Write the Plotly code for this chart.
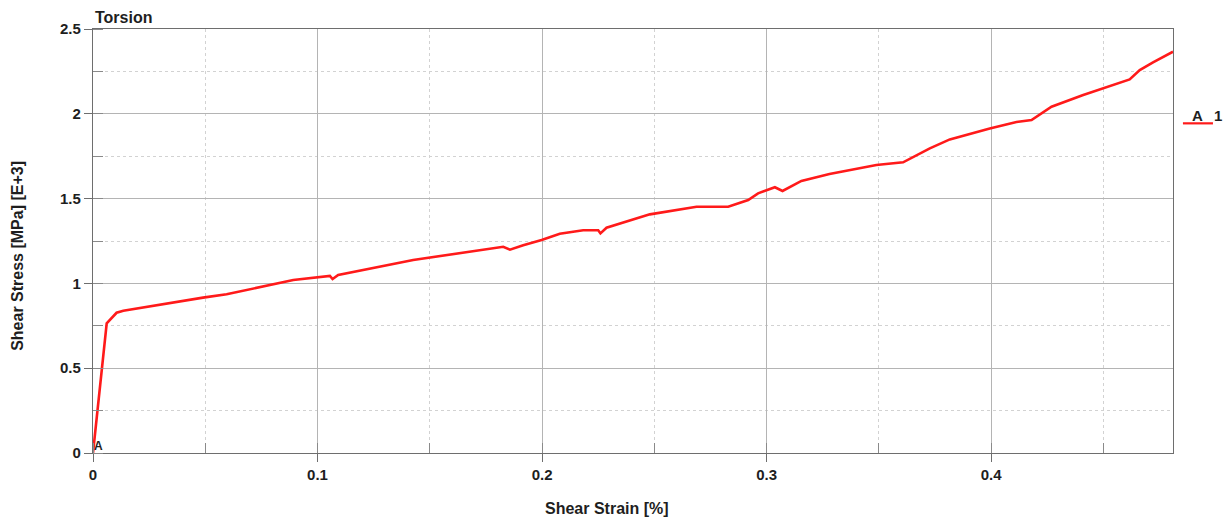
import plotly.graph_objects as go

# Torsion test: shear strain [%] vs shear stress [MPa, x1000]
shear_strain = [0.0, 0.0061, 0.0105, 0.0135, 0.049, 0.0595, 0.0892, 0.1055, 0.1067,
                0.1092, 0.1426, 0.1723, 0.1827, 0.1857, 0.1916, 0.1998, 0.2079, 0.2183,
                0.225, 0.226, 0.2287, 0.248, 0.2688, 0.2829, 0.2918, 0.2962, 0.3037,
                0.3071, 0.3155, 0.328, 0.337, 0.3489, 0.3608, 0.3727, 0.3816, 0.3994,
                0.4113, 0.418, 0.4269, 0.441, 0.4617, 0.4662, 0.4721, 0.481]
shear_stress = [0.0, 0.765, 0.827, 0.839, 0.916, 0.936, 1.02, 1.044, 1.026,
                1.05, 1.138, 1.193, 1.216, 1.199, 1.225, 1.256, 1.293, 1.313,
                1.313, 1.295, 1.328, 1.407, 1.452, 1.452, 1.492, 1.531, 1.567,
                1.545, 1.604, 1.645, 1.669, 1.698, 1.714, 1.796, 1.849, 1.914,
                1.952, 1.963, 2.042, 2.111, 2.203, 2.258, 2.303, 2.366]

x_ticks = [0, 0.1, 0.2, 0.3, 0.4]
x_tick_text = ["0", "0.1", "0.2", "0.3", "0.4"]
y_ticks = [0, 0.5, 1, 1.5, 2, 2.5]
y_tick_text = ["0", "0.5", "1", "1.5", "2", "2.5"]

series_name = "A"
series_index = "1"

FONT = "Liberation Sans, Arial, sans-serif"
RED = "#ff1a1a"
TEXT = "#1e1e1e"

fig = go.Figure()
fig.add_trace(go.Scatter(
    x=shear_strain, y=shear_stress, mode="lines",
    line=dict(color=RED, width=2.6), showlegend=False, name=series_name + "_" + series_index,
))

axis_common = dict(
    showline=True, linecolor="#6e6e6e", linewidth=1.2, mirror=True,
    showgrid=True, gridcolor="#b4b4b4", gridwidth=1,
    ticks="outside", ticklen=8, tickcolor="#6e6e6e", tickwidth=1,
    tickfont=dict(family=FONT, size=15, color=TEXT, weight="bold"),
    zeroline=False,
    minor=dict(ticks="inside", ticklen=10, tickcolor="#8a8a8a", showgrid=True,
               gridcolor="#d2d2d2", griddash="dot", gridwidth=1),
)

fig.update_xaxes(range=[0, 0.481], tickvals=x_ticks, ticktext=x_tick_text,
                 minor_dtick=0.05, **axis_common)
fig.update_yaxes(range=[0, 2.5], tickvals=y_ticks, ticktext=y_tick_text,
                 minor_dtick=0.25, **axis_common)

annotations = [
    dict(text="<b>Torsion</b>", xref="paper", yref="paper", x=0.0, y=1.0,
         xanchor="left", yanchor="bottom", yshift=1, showarrow=False,
         font=dict(family=FONT, size=16, color=TEXT)),
    dict(text="<b>Shear Strain [%]</b>", xref="paper", yref="paper", x=0.476, y=0,
         xanchor="center", yanchor="middle", yshift=-55, showarrow=False,
         font=dict(family=FONT, size=16, color=TEXT)),
    dict(text="<b>Shear Stress [MPa] [E+3]</b>", xref="paper", yref="paper", x=0, y=0.465,
         xanchor="center", yanchor="middle", xshift=-75, textangle=-90, showarrow=False,
         font=dict(family=FONT, size=16, color=TEXT)),
    # start-point label on the curve
    dict(text="<b>A</b>", x=shear_strain[0], y=shear_stress[0], xref="x", yref="y",
         xanchor="left", yanchor="bottom", xshift=-1, yshift=-2, showarrow=False,
         font=dict(family=FONT, size=12, color=TEXT)),
    # legend entry
    dict(text="<b>" + series_name + "</b>", xref="paper", yref="paper", x=1.0, y=0.797,
         xanchor="left", yanchor="middle", xshift=17, showarrow=False,
         font=dict(family=FONT, size=15, color=TEXT)),
    dict(text="<b>" + series_index + "</b>", xref="paper", yref="paper", x=1.0, y=0.797,
         xanchor="left", yanchor="middle", xshift=39, showarrow=False,
         font=dict(family=FONT, size=15, color=TEXT)),
]

shapes = [
    dict(type="line", xref="paper", yref="paper", x0=1.0092, x1=1.0370, y0=0.7775, y1=0.7775,
         line=dict(color=RED, width=2.2)),
]

fig.update_layout(
    width=1231, height=520,
    margin=dict(l=93, r=58, t=29, b=67),
    paper_bgcolor="white", plot_bgcolor="white",
    annotations=annotations, shapes=shapes,
    showlegend=False,
)

fig.write_html("out.html")
